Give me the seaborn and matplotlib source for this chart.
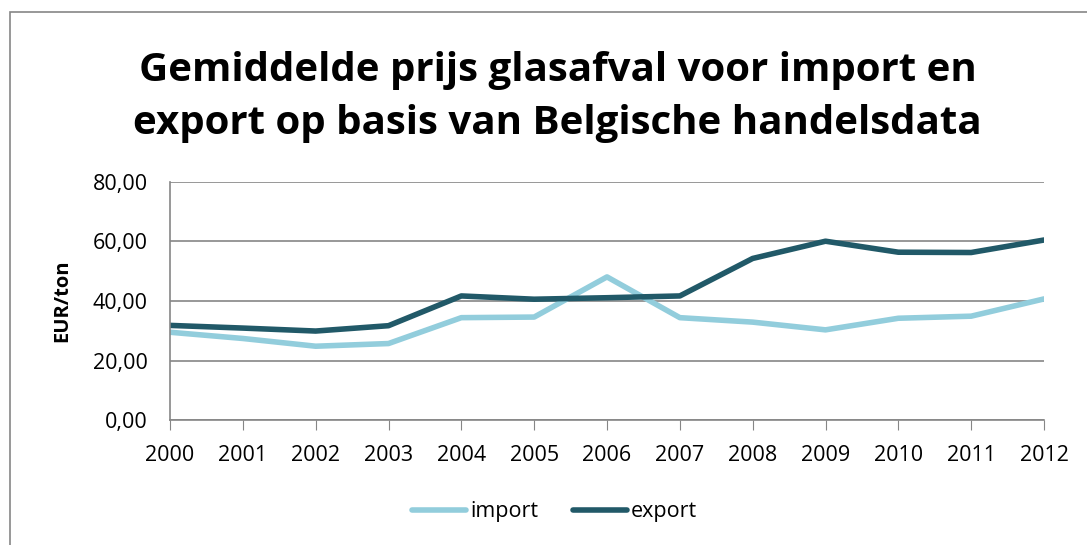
import pandas as pd
import matplotlib.pyplot as plt
import seaborn as sns

# jaren en gemiddelde prijzen (EUR/ton)
jaren = [2000, 2001, 2002, 2003, 2004, 2005, 2006, 2007, 2008, 2009, 2010, 2011, 2012]
prijs_import = [29.5, 27.4, 24.8, 25.7, 34.4, 34.6, 48.1, 34.4, 32.9, 30.3, 34.2, 34.9, 40.7]
prijs_export = [31.8, 30.9, 29.9, 31.7, 41.7, 40.6, 41.1, 41.7, 54.3, 60.1, 56.4, 56.3, 60.5]

df = pd.DataFrame({
    'jaar': [str(j) for j in jaren] * 2,
    'prijs': prijs_import + prijs_export,
    'reeks': ['import'] * len(jaren) + ['export'] * len(jaren),
})

sns.set_style('white')
plt.rcParams['font.family'] = ['Open Sans', 'DejaVu Sans']
plt.rcParams['text.color'] = 'black'
plt.rcParams['xtick.color'] = 'black'
plt.rcParams['ytick.color'] = 'black'
plt.rcParams['axes.labelcolor'] = 'black'

fig = plt.figure(figsize=(10.87, 5.45), dpi=100)
ax = fig.add_axes([170 / 1087, 1 - 420 / 545, (1044 - 170) / 1087, (420 - 182) / 545])

sns.lineplot(data=df, x='jaar', y='prijs', hue='reeks', sort=False,
             palette={'import': '#92CDDC', 'export': '#215968'},
             linewidth=4, ax=ax)

ax.set_ylim(0, 80)
ax.set_yticks([0, 20, 40, 60, 80])
ax.set_yticklabels(['0,00', '20,00', '40,00', '60,00', '80,00'], fontsize=15.5)
ax.set_xlim(0, len(jaren) - 1)
ax.tick_params(axis='x', labelsize=15.5, length=7, color='#868686', direction='out', bottom=True, pad=11)
ax.tick_params(axis='y', length=0, pad=16)
ax.yaxis.grid(True, color='#868686', linewidth=1.2)
for s in ['top', 'right']:
    ax.spines[s].set_visible(False)
for s in ['left', 'bottom']:
    ax.spines[s].set_color('#868686')
    ax.spines[s].set_linewidth(1.2)

ax.set_xlabel('')
ax.set_ylabel('EUR/ton', fontsize=14.5, fontweight='bold', labelpad=15)

fig.text(0.513, 0.822, 'Gemiddelde prijs glasafval voor import en\nexport op basis van Belgische handelsdata',
         ha='center', va='center', fontsize=29, fontweight='bold', linespacing=1.45)

ax.legend(loc='upper center', bbox_to_anchor=(0.44, -0.26), ncol=2, frameon=False,
          fontsize=15.5, handlelength=2.5, handletextpad=0.2, columnspacing=1.6)

fig.patches.append(plt.Rectangle((10 / 1087, -0.1), 1.2, 1.1 - 12 / 545, transform=fig.transFigure,
                                 fill=False, edgecolor='#868686', linewidth=1.2))

plt.savefig('out.png', dpi=100)
